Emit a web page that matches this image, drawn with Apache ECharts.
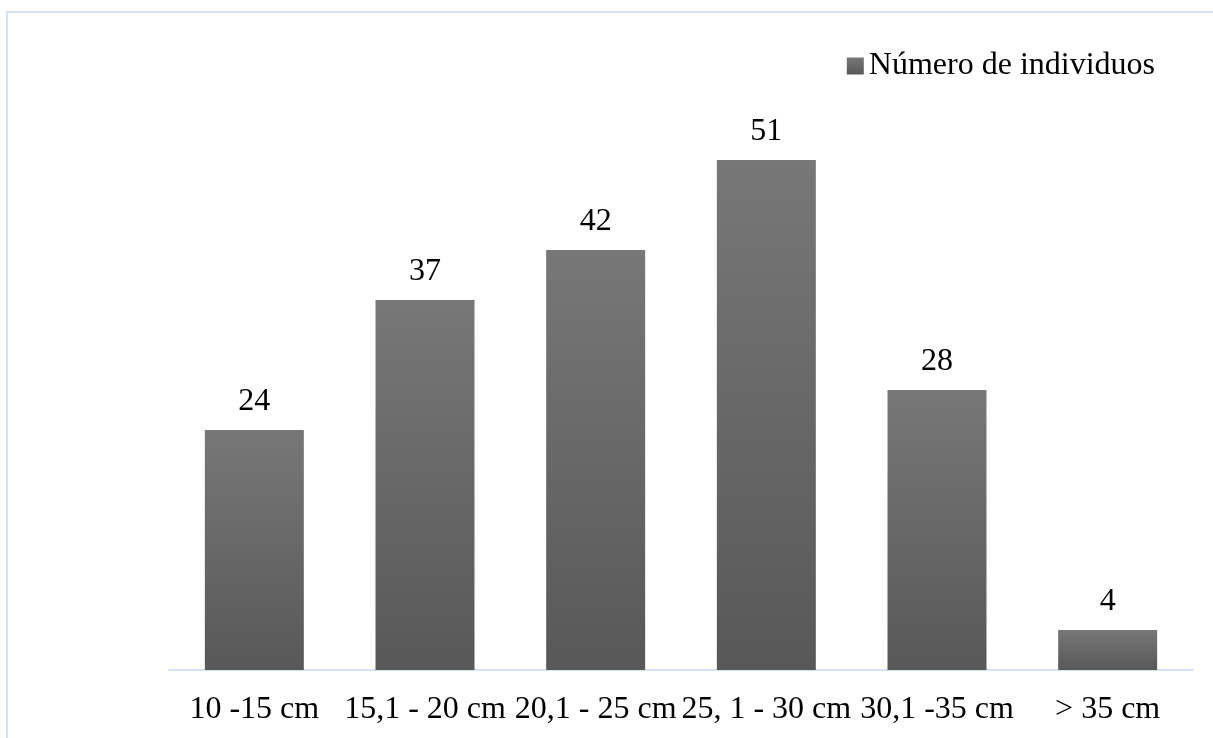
<!DOCTYPE html>
<html>
<head>
<meta charset="utf-8">
<style>
  html, body { margin: 0; padding: 0; background: #ffffff; }
  #chart { width: 1213px; height: 738px; }
</style>
<script src="https://cdn.jsdelivr.net/npm/echarts@6/dist/echarts.min.js"></script>
</head>
<body>
<div id="chart"></div>
<script>
// Size classes and the number of individuals counted in each
const categories = ['10 -15 cm', '15,1 - 20 cm', '20,1 - 25 cm', '25, 1 - 30 cm', '30,1 -35 cm', '> 35 cm'];
const counts = [24, 37, 42, 51, 28, 4];
const seriesName = 'Número de individuos';

const FONT = '"Liberation Serif", "Times New Roman", serif';

const barFill = new echarts.graphic.LinearGradient(0, 0, 0, 1, [
  { offset: 0, color: '#777777' },
  { offset: 1, color: '#585858' }
]);

const chart = echarts.init(document.getElementById('chart'), null, { renderer: 'canvas' });

chart.setOption({
  backgroundColor: '#ffffff',
  animation: false,
  textStyle: { fontFamily: FONT, color: '#000000' },
  // light frame around the chart area
  graphic: [{
    type: 'rect',
    shape: { x: 7, y: 12, width: 1400, height: 900 },
    style: { fill: 'none', stroke: '#d6e2f5', lineWidth: 2 },
    silent: true
  }],
  legend: {
    right: 53, top: 45,
    itemWidth: 17, itemHeight: 17, itemGap: 10,
    icon: 'rect',
    textStyle: { fontFamily: FONT, fontSize: 32, color: '#000000' },
    data: [{ name: seriesName, itemStyle: { color: barFill } }]
  },
  grid: { left: 169, right: 20, top: 70, bottom: 68, containLabel: false },
  xAxis: {
    type: 'category',
    data: categories,
    axisLine: { show: true, lineStyle: { color: '#d6e2f5', width: 2 } },
    axisTick: { show: false },
    axisLabel: {
      interval: 0, margin: 24,
      fontFamily: FONT, fontSize: 32, color: '#000000'
    }
  },
  yAxis: {
    type: 'value',
    min: 0, max: 60, interval: 10,
    show: false,
    splitLine: { show: false }
  },
  series: [{
    name: seriesName,
    type: 'bar',
    data: counts,
    barCategoryGap: '42%',
    itemStyle: { color: barFill },
    label: {
      show: true, position: 'top', distance: 12,
      fontFamily: FONT, fontSize: 32, color: '#000000'
    }
  }]
});
</script>
</body>
</html>
